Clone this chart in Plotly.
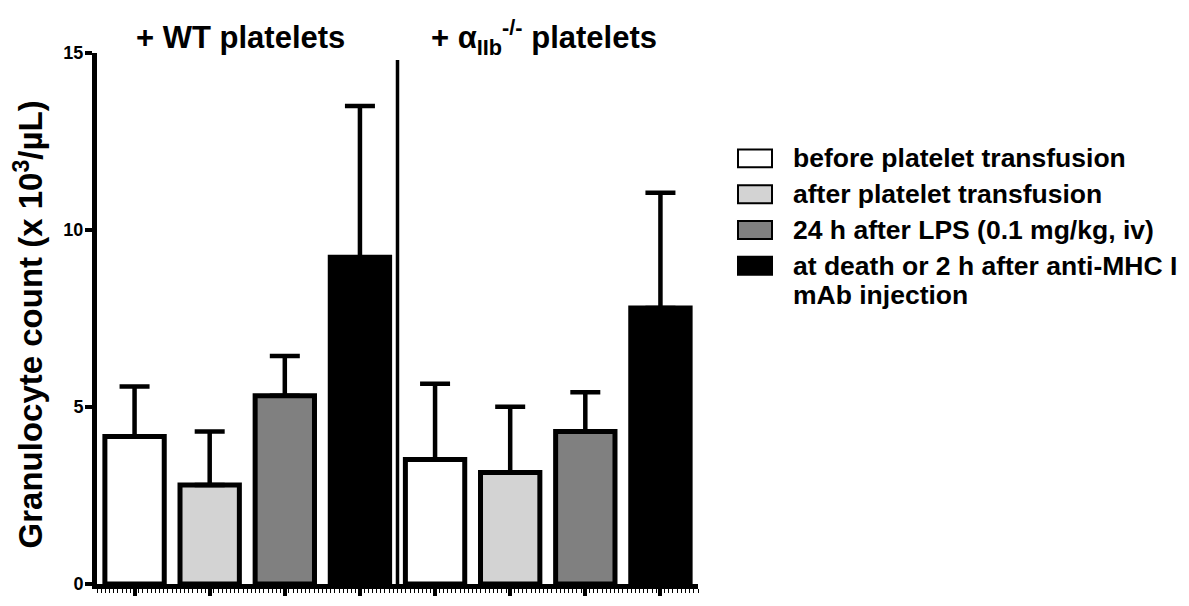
import plotly.graph_objects as go

# ---- data ----
groups = ["+ WT platelets", "+ α<sub>IIb</sub><sup>-/-</sup> platelets"]
series_names = [
    "before platelet transfusion",
    "after platelet transfusion",
    "24 h after LPS (0.1 mg/kg, iv)",
    "at death or 2 h after anti-MHC I<br>mAb injection",
]
series_colors = ["#ffffff", "#d3d3d3", "#808080", "#000000"]
# values: [WT, alphaIIb-/-]
means = [
    [4.17, 3.52],
    [2.80, 3.15],
    [5.32, 4.31],
    [9.23, 7.80],
]
upper = [
    [5.58, 5.66],
    [4.31, 5.01],
    [6.44, 5.42],
    [13.50, 11.05],
]
y_ticks = [0, 5, 10, 15]

# ---- geometry helpers (reference pixel coords) ----
W, H = 1189, 606
OFF = 8  # default page body margin
L, R, T, B = 97, 698, 53, 587
def px(xp):
    return (xp - L) / (R - L)
def py(yp):
    return (B - yp) / (B - T)

FONT = "Liberation Sans, Arial, Helvetica, sans-serif"

fig = go.Figure()
n_series = len(series_names)
for i, name in enumerate(series_names):
    xs = [g * n_series + i for g in range(len(groups))]
    errs = [u - m for u, m in zip(upper[i], means[i])]
    fig.add_trace(go.Bar(
        x=xs, y=means[i], name=name, width=0.79,
        marker=dict(color=series_colors[i], line=dict(color="black", width=5)),
        error_y=dict(type="data", symmetric=False, array=errs,
                     arrayminus=[0] * len(errs), color="black",
                     thickness=4.5, width=15),
        showlegend=False,
    ))

# divider between groups
fig.add_shape(type="line", xref="x", yref="y",
              x0=n_series - 0.5, x1=n_series - 0.5, y0=0, y1=14.8,
              line=dict(color="black", width=3.5))

# group titles
title_cx = [240, 544]
for g, txt in enumerate(groups):
    fig.add_annotation(xref="paper", yref="paper", x=px(title_cx[g]), y=py(37),
                       text=f"<b>{txt}</b>", showarrow=False,
                       xanchor="center", yanchor="middle",
                       font=dict(family=FONT, size=31, color="black"))

# y axis title
fig.add_annotation(xref="paper", yref="paper", x=px(29), y=py(326),
                   text="<b>Granulocyte count (x 10<sup>3</sup>/µL)</b>",
                   textangle=-90, showarrow=False, xanchor="center", yanchor="middle",
                   font=dict(family=FONT, size=33, color="black"))

# manual legend
row_y = [159, 195, 231, 267]
line_gap = 29
for i, name in enumerate(series_names):
    yc = row_y[i]
    fig.add_shape(type="rect", xref="paper", yref="paper",
                  x0=px(738), x1=px(772), y0=py(yc + 9), y1=py(yc - 9),
                  fillcolor=series_colors[i], line=dict(color="black", width=2))
    for k, line in enumerate(name.split("<br>")):
        fig.add_annotation(xref="paper", yref="paper", x=px(791),
                           y=py(yc + k * line_gap),
                           text=f"<b>{line}</b>", showarrow=False,
                           xanchor="left", yanchor="middle", align="left",
                           font=dict(family=FONT, size=26.5, color="black"))

fig.update_layout(
    width=W - OFF, height=H - OFF,
    margin=dict(l=L - OFF, r=W - R, t=T - OFF, b=H - B, pad=0),
    paper_bgcolor="white", plot_bgcolor="white",
    barmode="overlay",
    font=dict(family=FONT, color="black"),
    xaxis=dict(range=[-0.5, 2 * n_series - 0.5], tickvals=list(range(2 * n_series)),
               ticktext=[""] * (2 * n_series), showgrid=False, zeroline=False,
               showline=True, linecolor="black", linewidth=5,
               ticks="outside", ticklen=7, tickwidth=4, tickcolor="black",
               minor=dict(ticks="outside", ticklen=4, tickwidth=1,
                          tickcolor="black", dtick=1 / 18, showgrid=False)),
    yaxis=dict(range=[0, 15], tickvals=y_ticks, ticktext=[f"<b>{v}</b>" for v in y_ticks],
               showgrid=False, zeroline=False, showline=True, linecolor="black",
               linewidth=5, ticks="outside", ticklen=7, tickwidth=4, tickcolor="black",
               ticklabelstandoff=-2,
               tickfont=dict(family=FONT, size=18, color="black")),
)

fig.write_html("out.html")
